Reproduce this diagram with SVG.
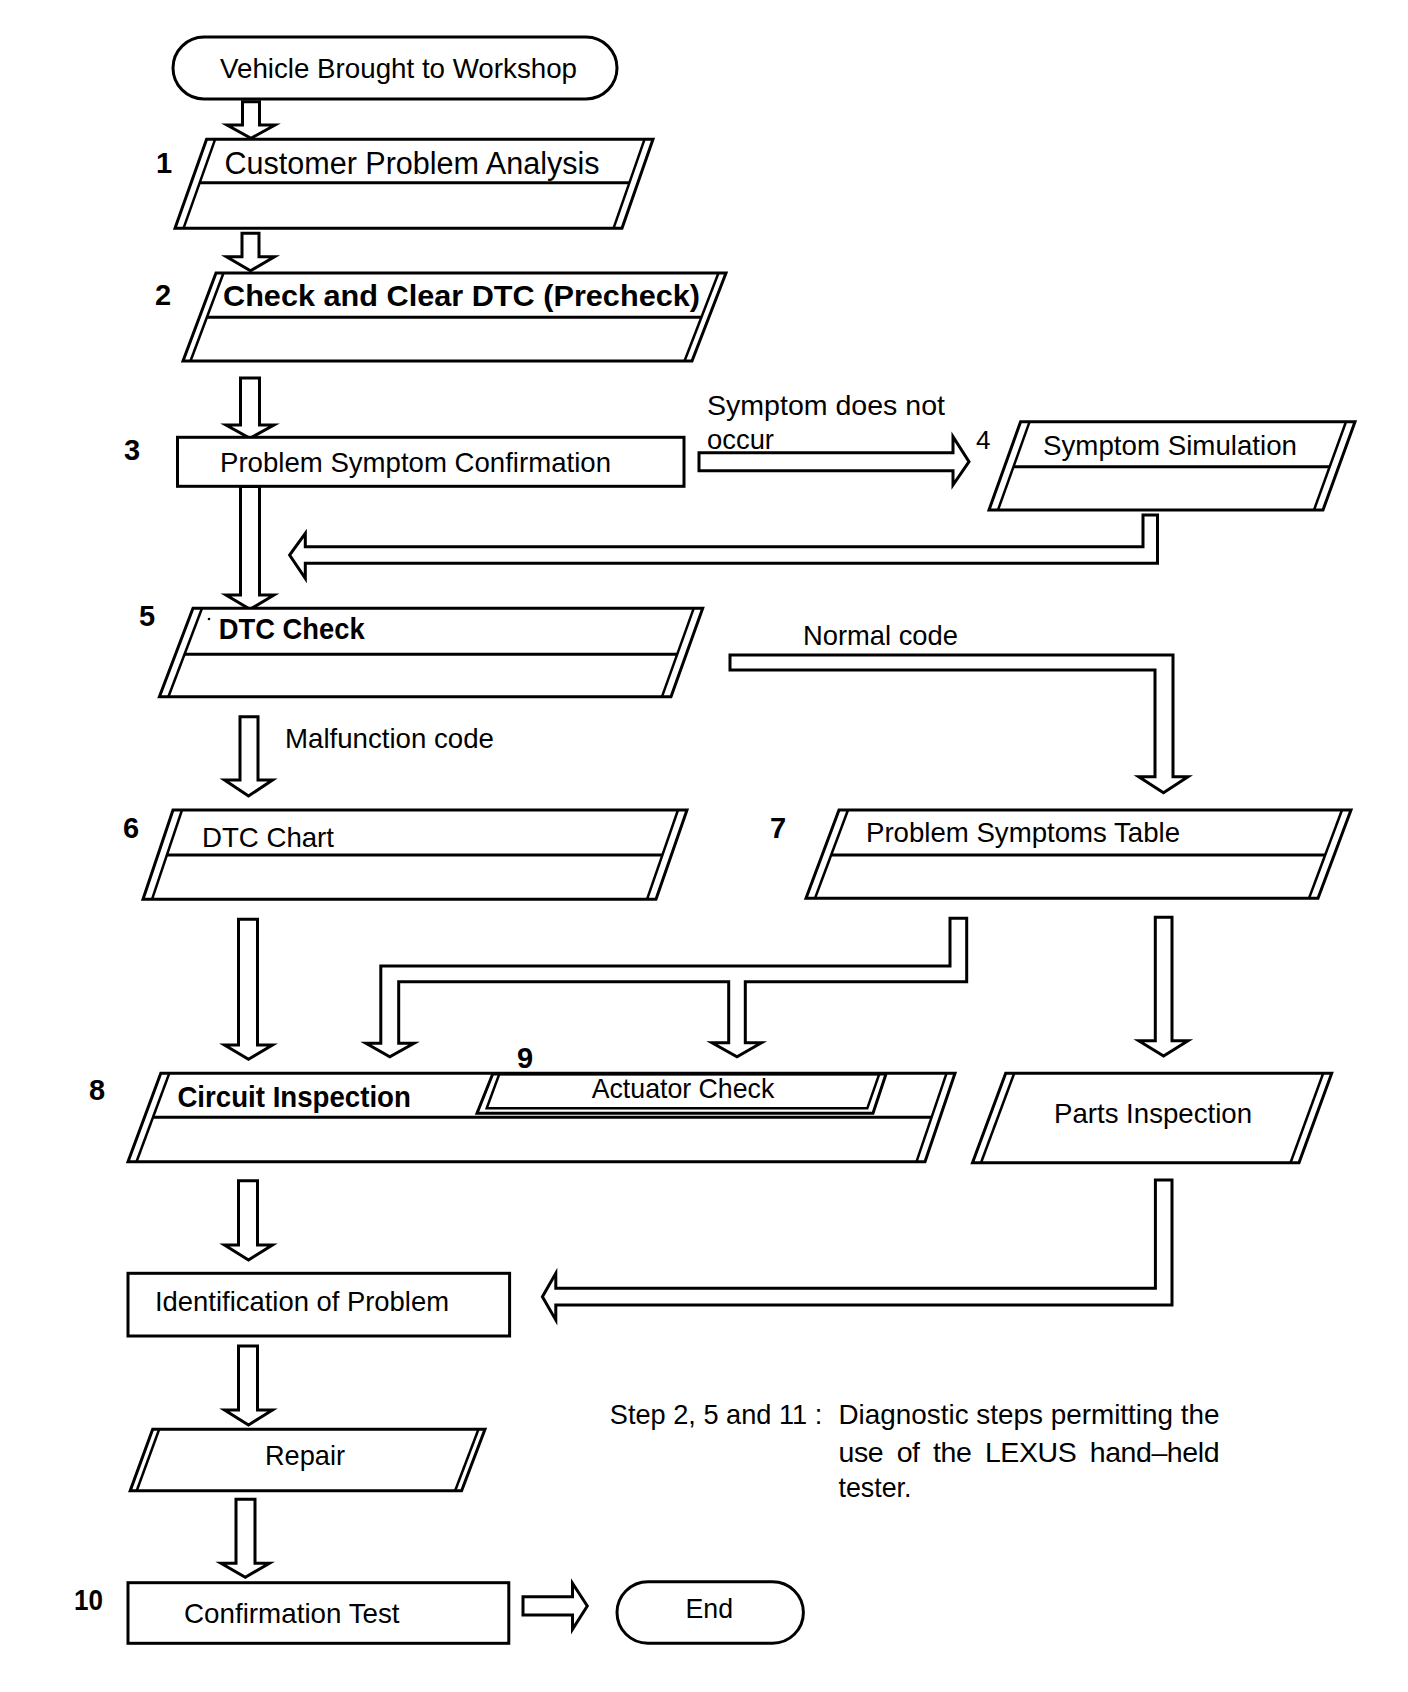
<svg xmlns="http://www.w3.org/2000/svg" width="1408" height="1692" viewBox="0 0 1408 1692">
<style>
.o{fill:#fff;stroke:#000;stroke-width:3;stroke-linejoin:miter}
.in{fill:none;stroke:#000;stroke-width:2.5}
.dv{fill:none;stroke:#000;stroke-width:3}
.ar{fill:#fff;stroke:#000;stroke-width:3;stroke-linejoin:miter}
text{font-family:"Liberation Sans",Arial,Helvetica,sans-serif;fill:#000}
.t{font-size:28.5px}
.b{font-size:29.5px;font-weight:bold}
.lb{font-size:29px;font-weight:bold}
</style>
<rect width="1408" height="1692" fill="#fff"/>

<g id="connectors">
<polygon class="ar" points="242.5,101.7 259.5,101.7 259.5,125 275,125 251,138.3 227,125 242.5,125"/>
<polygon class="ar" points="242,233.3 259,233.3 259,256.7 274.5,256.7 250.5,270.7 226.5,256.7 242,256.7"/>
<polygon class="ar" points="240.5,378 259.5,378 259.5,425 274,425 250,438.3 226,425 240.5,425"/>
<polygon class="ar" points="240.5,486.5 259.5,486.5 259.5,595 274,595 250,609.3 226,595 240.5,595"/>
<polygon class="ar" points="699,452.7 953,452.7 953,436.7 969,461.7 953,485 953,470.7 699,470.7"/>
<polygon class="ar" points="1143,515 1157.5,515 1157.5,563.3 305.3,563.3 305.3,578.3 289.6,555 305.3,533.3 305.3,546.7 1143,546.7"/>
<polygon class="ar" points="240,716.7 258,716.7 258,780 272.6,780 248.5,796 224.5,780 240,780"/>
<polygon class="ar" points="730,655 1173,655 1173,776.7 1188,776.7 1163.5,792.7 1138.7,776.7 1155,776.7 1155,670 730,670"/>
<polygon class="ar" points="238.5,919.3 257.5,919.3 257.5,1045 272.5,1045 248.5,1059.3 224.5,1045 238.5,1045"/>
<polygon class="ar" points="950,918.3 966.7,918.3 966.7,981.7 745.3,981.7 745.3,1042.7 761.5,1042.7 737,1056.7 712,1042.7 728.7,1042.7 728.7,981.7 398.7,981.7 398.7,1043.3 414,1043.3 389.8,1056.7 366,1043.3 380.8,1043.3 380.8,966 950,966"/>
<polygon class="ar" points="1155.3,917.3 1172,917.3 1172,1040.7 1188,1040.7 1163.6,1056 1138.7,1040.7 1155.3,1040.7"/>
<polygon class="ar" points="238.5,1180.7 257.5,1180.7 257.5,1245 272.5,1245 248.5,1260 224.5,1245 238.5,1245"/>
<polygon class="ar" points="1155.4,1180 1172,1180 1172,1305 555.8,1305 555.8,1320 542.4,1296.7 555.8,1273.3 555.8,1288.3 1155.4,1288.3"/>
<polygon class="ar" points="238.5,1346 257.5,1346 257.5,1410 272.5,1410 248.5,1425 224.5,1410 238.5,1410"/>
<polygon class="ar" points="236,1499.3 255,1499.3 255,1563.3 269.4,1563.3 245.3,1577.3 221,1563.3 236,1563.3"/>
<polygon class="ar" points="523,1596.7 572.5,1596.7 572.5,1583.3 587.3,1606 572.5,1629.3 572.5,1615 523,1615"/>
<text class="t" x="707" y="414.5" textLength="238" lengthAdjust="spacingAndGlyphs">Symptom does not</text>
<text class="t" x="707" y="448.5" textLength="67" lengthAdjust="spacingAndGlyphs">occur</text>
<text class="t" x="285" y="747.7" textLength="209" lengthAdjust="spacingAndGlyphs">Malfunction code</text>
<text class="t" x="803" y="645" textLength="155" lengthAdjust="spacingAndGlyphs">Normal code</text>
</g>

<g id="start">
<rect class="o" x="173" y="37" width="444" height="62" rx="31" ry="31"/>
<text class="t" x="220" y="78" textLength="357" lengthAdjust="spacingAndGlyphs">Vehicle Brought to Workshop</text>
</g>

<g id="step1">
<polygon class="o" points="206.6,139.3 653,139.3 622,228.3 175,228.3"/>
<line class="in" x1="215.1" y1="139.3" x2="183.5" y2="228.3"/>
<line class="in" x1="644.5" y1="139.3" x2="613.5" y2="228.3"/>
<line class="dv" x1="199.7" y1="182.7" x2="629.4" y2="182.7"/>
<text style="font-size:31px" x="224.5" y="174" textLength="375" lengthAdjust="spacingAndGlyphs">Customer Problem Analysis</text>
<text class="lb" x="156" y="173">1</text>
</g>

<g id="step2">
<polygon class="o" points="216,273 726,273 692,361 183,361"/>
<line class="in" x1="223.5" y1="273" x2="190.5" y2="361"/>
<line class="in" x1="718.5" y1="273" x2="684.5" y2="361"/>
<line class="dv" x1="206.9" y1="317.3" x2="701.4" y2="317.3"/>
<text class="b" x="223" y="306" textLength="477" lengthAdjust="spacingAndGlyphs">Check and Clear DTC (Precheck)</text>
<text class="lb" x="155" y="305">2</text>
</g>

<g id="step3">
<rect class="o" x="177.5" y="437.3" width="506.5" height="49"/>
<text class="t" x="220" y="471.7" textLength="391" lengthAdjust="spacingAndGlyphs">Problem Symptom Confirmation</text>
<text class="lb" x="124" y="460">3</text>
</g>

<g id="step4">
<polygon class="o" points="1020.6,421.7 1355,421.7 1323,510 989,510"/>
<line class="in" x1="1029.6" y1="421.7" x2="998" y2="510"/>
<line class="in" x1="1346" y1="421.7" x2="1314" y2="510"/>
<line class="dv" x1="1013.5" y1="466.7" x2="1329.7" y2="466.7"/>
<text class="t" x="1043" y="455" textLength="254" lengthAdjust="spacingAndGlyphs">Symptom Simulation</text>
<text style="font-size:26px" x="976" y="449">4</text>
</g>

<g id="step5">
<polygon class="o" points="193,608.3 702.7,608.3 671,696.7 159.4,696.7"/>
<line class="in" x1="202" y1="608.3" x2="168.4" y2="696.7"/>
<line class="in" x1="693.7" y1="608.3" x2="662" y2="696.7"/>
<line class="dv" x1="184.5" y1="654.3" x2="677.2" y2="654.3"/>
<circle cx="209" cy="619" r="1.3" fill="#000"/>
<text class="b" x="218.7" y="639.3" textLength="146" lengthAdjust="spacingAndGlyphs">DTC Check</text>
<text class="lb" x="139" y="626">5</text>
</g>

<g id="step6">
<polygon class="o" points="173,810 687,810 656,899.3 143,899.3"/>
<line class="in" x1="182" y1="810" x2="152" y2="899.3"/>
<line class="in" x1="678" y1="810" x2="647" y2="899.3"/>
<line class="dv" x1="166.9" y1="855" x2="662.4" y2="855"/>
<text class="t" x="202" y="846.7" textLength="132" lengthAdjust="spacingAndGlyphs">DTC Chart</text>
<text class="lb" x="123" y="838">6</text>
</g>

<g id="step7">
<polygon class="o" points="839,810 1351,810 1318,898.3 806,898.3"/>
<line class="in" x1="848" y1="810" x2="815" y2="898.3"/>
<line class="in" x1="1342" y1="810" x2="1309" y2="898.3"/>
<line class="dv" x1="831.2" y1="855" x2="1325.2" y2="855"/>
<text class="t" x="866" y="842" textLength="314" lengthAdjust="spacingAndGlyphs">Problem Symptoms Table</text>
<text class="lb" x="770" y="838">7</text>
</g>

<g id="step8">
<polygon class="o" points="160.8,1073.3 955,1073.3 925,1161.7 128,1161.7"/>
<line class="in" x1="169.3" y1="1073.3" x2="136.5" y2="1161.7"/>
<line class="in" x1="946.5" y1="1073.3" x2="916.5" y2="1161.7"/>
<line class="dv" x1="153" y1="1117.3" x2="931.6" y2="1117.3"/>
<text class="b" x="177.4" y="1107.3" textLength="233.5" lengthAdjust="spacingAndGlyphs">Circuit Inspection</text>
<text class="lb" x="89" y="1100">8</text>
</g>

<g id="step9">
<polygon class="o" points="492.7,1074 886,1074 873,1113.3 477,1113.3"/>
<polygon class="in" points="499.3,1074 879.3,1074 867.3,1108.3 486.7,1108.3"/>
<text class="t" x="591.7" y="1098.3" textLength="182.6" lengthAdjust="spacingAndGlyphs">Actuator Check</text>
<text class="lb" x="517" y="1068">9</text>
</g>

<g id="parts">
<polygon class="o" points="1005.7,1073.3 1331.7,1073.3 1299,1162.7 972.5,1162.7"/>
<line class="in" x1="1014.2" y1="1073.3" x2="981" y2="1162.7"/>
<line class="in" x1="1323.2" y1="1073.3" x2="1290.5" y2="1162.7"/>
<text class="t" x="1054" y="1123.3" textLength="198" lengthAdjust="spacingAndGlyphs">Parts Inspection</text>
</g>

<g id="identification">
<rect class="o" x="128" y="1273.3" width="381.6" height="62.7"/>
<text class="t" x="155" y="1310.7" textLength="294" lengthAdjust="spacingAndGlyphs">Identification of Problem</text>
</g>

<g id="repair">
<polygon class="o" points="152.7,1429.3 485,1429.3 461.6,1490.7 130.2,1490.7"/>
<line class="in" x1="159.2" y1="1429.3" x2="136.7" y2="1490.7"/>
<line class="in" x1="478.5" y1="1429.3" x2="455.1" y2="1490.7"/>
<text class="t" x="265" y="1465" textLength="80" lengthAdjust="spacingAndGlyphs">Repair</text>
</g>

<g id="step10">
<rect class="o" x="128" y="1582.7" width="380.8" height="60.6"/>
<text class="t" x="184" y="1622.7" textLength="215.6" lengthAdjust="spacingAndGlyphs">Confirmation Test</text>
<text class="lb" x="74" y="1610" textLength="29" lengthAdjust="spacingAndGlyphs">10</text>
</g>

<g id="end">
<rect class="o" x="617" y="1581.7" width="186.4" height="61.6" rx="31" ry="31"/>
<text class="t" x="685.5" y="1618.3" textLength="47.5" lengthAdjust="spacingAndGlyphs">End</text>
</g>

<g id="note">
<text class="t" x="609.8" y="1424" textLength="212.5" lengthAdjust="spacingAndGlyphs">Step 2, 5 and 11 :</text>
<text class="t" x="838.5" y="1424" textLength="381" lengthAdjust="spacingAndGlyphs">Diagnostic steps permitting the</text>
<text class="t" x="838.5" y="1461.7" word-spacing="6" textLength="381" lengthAdjust="spacing">use of the LEXUS hand–held</text>
<text class="t" x="838.5" y="1496.7" textLength="73" lengthAdjust="spacingAndGlyphs">tester.</text>
</g>
</svg>
